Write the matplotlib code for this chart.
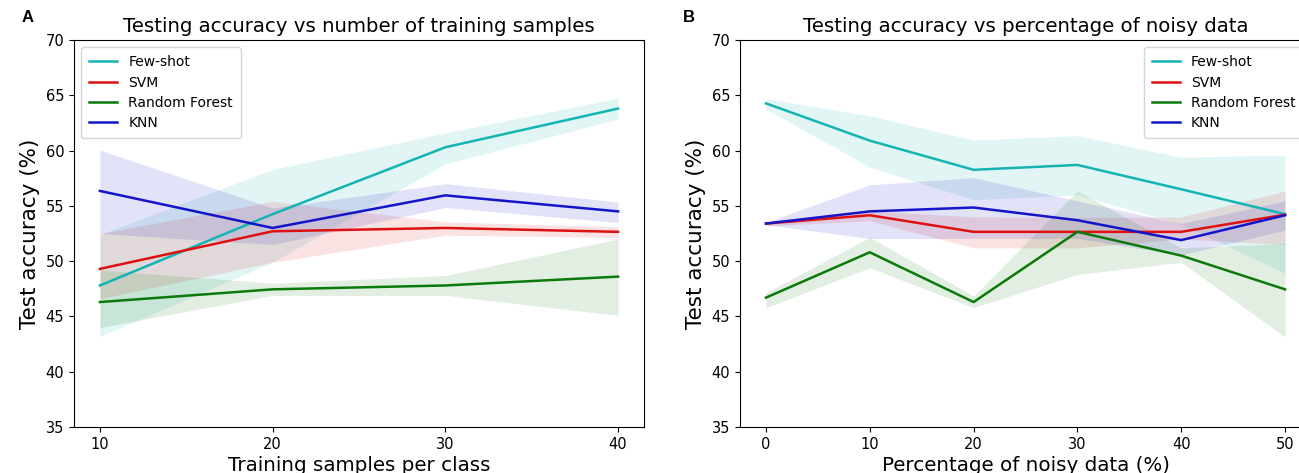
import matplotlib
matplotlib.use("Agg")
import matplotlib.pyplot as plt

methods = ["Few-shot", "SVM", "Random Forest", "KNN"]
colors = ["#14b4b4", "#dd1111", "#0b7a0b", "#1414c8"]

# Panel A
samples = [10, 20, 30, 40]
a_mean = {
    "Few-shot": [47.8, 54.25, 60.3, 63.8],
    "SVM": [49.3, 52.7, 53.0, 52.65],
    "Random Forest": [46.3, 47.45, 47.8, 48.6],
    "KNN": [56.35, 53.0, 55.95, 54.5],
}
a_low = {
    "Few-shot": [43.2, 49.9, 58.8, 62.85],
    "SVM": [46.6, 49.9, 52.35, 52.15],
    "Random Forest": [44.0, 46.9, 46.9, 45.1],
    "KNN": [52.5, 51.5, 54.85, 53.5],
}
a_high = {
    "Few-shot": [52.4, 58.3, 61.6, 64.75],
    "SVM": [52.5, 55.4, 53.55, 53.1],
    "Random Forest": [49.2, 48.0, 48.7, 52.0],
    "KNN": [60.05, 54.8, 57.0, 55.35],
}

# Panel B
noise = [0, 10, 20, 30, 40, 50]
b_mean = {
    "Few-shot": [64.27, 60.9, 58.26, 58.7, 56.5, 54.25],
    "SVM": [53.4, 54.15, 52.65, 52.65, 52.65, 54.2],
    "Random Forest": [46.7, 50.8, 46.3, 52.65, 50.5, 47.45],
    "KNN": [53.4, 54.5, 54.85, 53.7, 51.9, 54.15],
}
b_low = {
    "Few-shot": [63.75, 58.5, 55.55, 56.0, 53.35, 48.9],
    "SVM": [53.2, 53.65, 51.2, 51.2, 52.0, 51.5],
    "Random Forest": [45.8, 49.4, 45.8, 48.8, 49.9, 43.15],
    "KNN": [53.3, 52.05, 52.05, 52.05, 50.55, 52.8],
}
b_high = {
    "Few-shot": [64.7, 63.15, 60.95, 61.35, 59.4, 59.6],
    "SVM": [53.6, 54.55, 54.0, 53.95, 54.0, 56.35],
    "Random Forest": [47.15, 52.15, 46.85, 56.35, 51.2, 51.6],
    "KNN": [53.5, 56.9, 57.55, 55.45, 53.4, 55.45],
}

fig = plt.figure(figsize=(12.99, 4.73), dpi=100)
axA = fig.add_axes([74 / 1299, 46 / 473, 570 / 1299, 387 / 473])
axB = fig.add_axes([740 / 1299, 46 / 473, 571 / 1299, 387 / 473])


def draw(ax, x, mean, low, high):
    for m, c in zip(methods, colors):
        ax.fill_between(x, low[m], high[m], color=c, alpha=0.12, linewidth=0)
        ax.plot(x, mean[m], color=c, lw=1.8, label=m)
    ax.set_ylim(35, 70)
    ax.set_yticks(range(35, 71, 5))
    ax.set_xticks(x)
    ax.tick_params(labelsize=10.5)
    ax.set_ylabel("Test accuracy (%)", fontsize=15.5)


draw(axA, samples, a_mean, a_low, a_high)
axA.set_title("Testing accuracy vs number of training samples", fontsize=14.2)
axA.set_xlabel("Training samples per class", fontsize=14.3, labelpad=3)
axA.legend(loc="upper left", fontsize=10, handlelength=2.0, borderpad=0.6,
           labelspacing=0.45)

draw(axB, noise, b_mean, b_low, b_high)
axB.set_title("Testing accuracy vs percentage of noisy data", fontsize=14.2)
axB.set_xlabel("Percentage of noisy data (%)", fontsize=14.3, labelpad=3)
axB.legend(loc="upper right", fontsize=10, handlelength=2.0, borderpad=0.6,
           labelspacing=0.45)

fig.text(22 / 1299, 1 - 17 / 473, "A", fontsize=12, fontweight="bold",
         family=["Liberation Sans", "DejaVu Sans"], va="center")
fig.text(683 / 1299, 1 - 17 / 473, "B", fontsize=12, fontweight="bold",
         family=["Liberation Sans", "DejaVu Sans"], va="center")

fig.savefig("out.png", dpi=100)
